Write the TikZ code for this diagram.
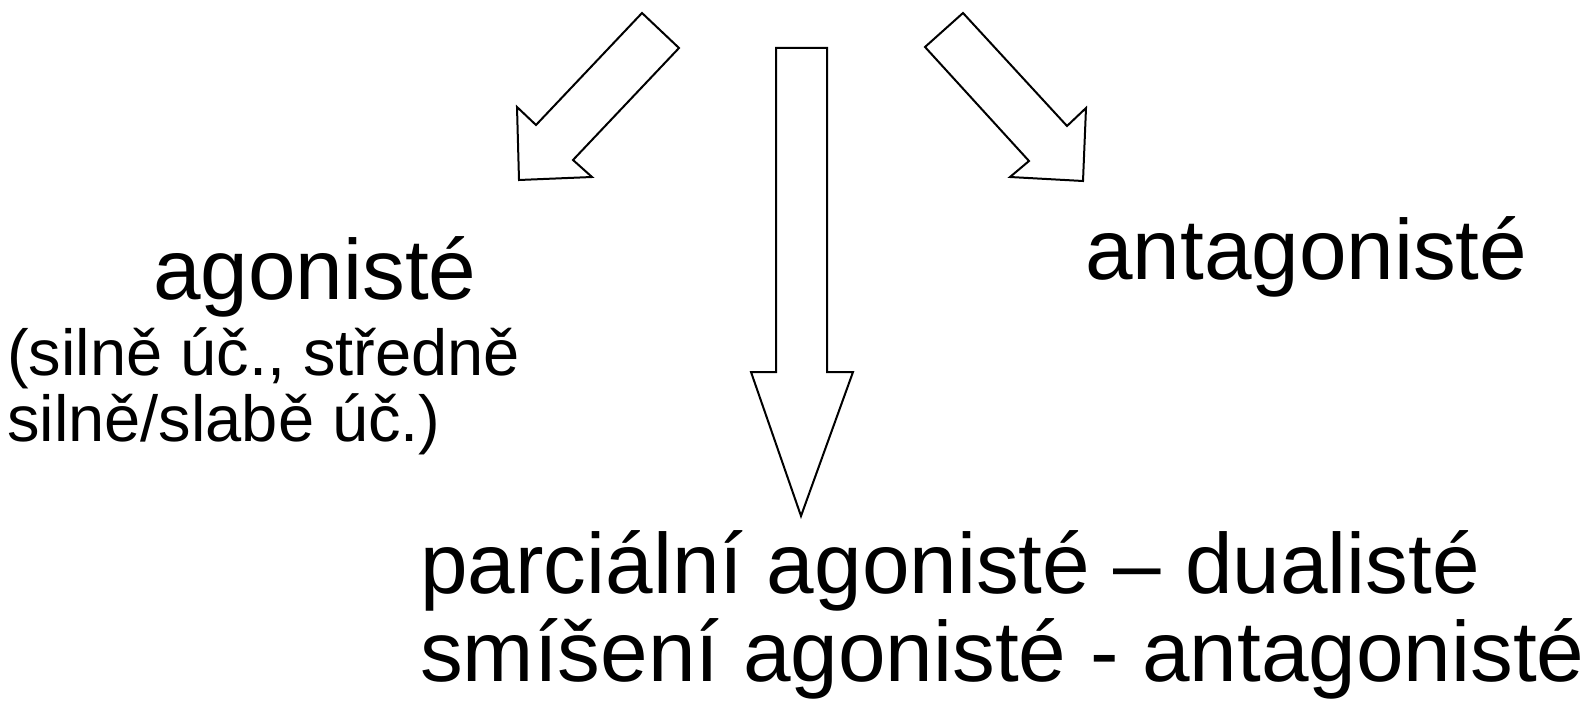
\documentclass[tikz,border=0pt]{standalone}
\usepackage{fontspec}
\setmainfont{Liberation Sans}
\begin{document}
\begin{tikzpicture}[x=1pt,y=-1pt,
  blockarrow/.style={draw=black,fill=white,line width=2pt,line join=miter},
  big/.style={inner sep=0pt,anchor=base west,font=\fontsize{85.5}{96}\selectfont},
  small/.style={inner sep=0pt,anchor=base west,font=\fontsize{65}{74}\selectfont}]
\useasboundingbox[fill=white] (0,0) rectangle (1584,709);
% left arrow
\draw[blockarrow] (642,13) -- (679,48) -- (573,160) -- (592,177) -- (519,180) -- (517,107) -- (536,125) -- cycle;
% right arrow
\draw[blockarrow] (963,13) -- (925,47) -- (1029,161) -- (1010,177) -- (1083,181) -- (1086,108) -- (1067,126) -- cycle;
% centre arrow
\draw[blockarrow] (776,48) -- (827,48) -- (827,372) -- (853,372) -- (801,516) -- (751,372) -- (776,372) -- cycle;
% texts
\node[big] (ago) at (153,299) {agonisté};
\node[small] (ago1) at (7,375) {(silně úč., středně};
\node[small] (ago2) at (7,441) {silně/slabě úč.)};
\node[big] (anta) at (1085,279) {antagonisté};
\node[big] (par) at (420,593) {parciální agonisté – dualisté};
\node[big] (smi) at (420,681) {smíšení agonisté - antagonisté};
\end{tikzpicture}
\end{document}
